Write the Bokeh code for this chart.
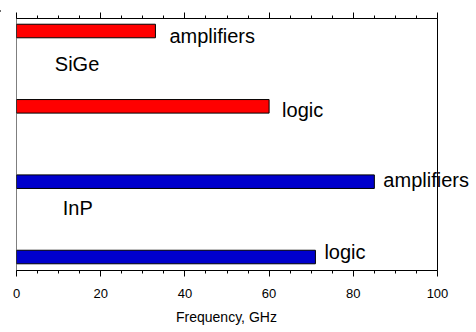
from bokeh.plotting import figure
from bokeh.layouts import column
from bokeh.models import (ColumnDataSource, LinearAxis, FixedTicker, Range1d,
                          LabelSet, Span, Title, Div)
from bokeh.core.properties import value
from bokeh.embed import file_html
from bokeh.resources import INLINE

# ---- data ----
bar_labels = ["amplifiers", "logic", "amplifiers", "logic"]
bar_groups = ["SiGe", "SiGe", "InP", "InP"]
frequency_ghz = [33, 60, 85, 71]
group_names = ["SiGe", "InP"]
x_min, x_max = 0, 100
x_major_ticks = [0, 20, 40, 60, 80, 100]
x_minor_ticks = list(range(0, 101, 5))
x_axis_title = "Frequency, GHz"

group_colors = {"SiGe": "#ff0000", "InP": "#0000cc"}
FONT = "Liberation Sans"

n = len(bar_labels)
ys = [n - i for i in range(n)]  # top bar first

src = ColumnDataSource(dict(
    y=ys, value=frequency_ghz, label=bar_labels,
    color=[group_colors[g] for g in bar_groups],
    xo=[14, 13, 9, 9], yo=[-5, -4, 1.5, 5],
))

# axis box spans 16..437 px; the drawing area runs on to the right edge so
# the labels past the box (e.g. "amplifiers") are not clipped
W, H = 476, 330
box_left, box_right = 16, 437
x_end = x_max + (x_max - x_min) * (W - box_right) / (box_right - box_left)

p = figure(width=W, height=H, output_backend="svg", toolbar_location=None,
           x_range=Range1d(x_min, x_end), y_range=Range1d(0.821, 4.166),
           min_border_left=box_left, min_border_right=0, min_border_top=16,
           min_border_bottom=62)
p.margin = 0
p.background_fill_color = "white"
p.border_fill_color = "white"
p.outline_line_color = None
p.xgrid.visible = False
p.ygrid.visible = False
p.yaxis.visible = False

def style_axis(a):
    a.ticker = FixedTicker(ticks=x_major_ticks, minor_ticks=x_minor_ticks)
    a.bounds = (x_min, x_max)
    a.major_tick_in = 0
    a.major_tick_out = 6
    a.minor_tick_in = 0
    a.minor_tick_out = 3
    a.axis_line_color = "black"
    a.major_tick_line_color = "black"
    a.minor_tick_line_color = "black"

ax = p.xaxis[0]
style_axis(ax)
ax.axis_label = None
ax.major_label_text_font = FONT
ax.major_label_text_font_size = "13px"
ax.major_label_text_color = "black"
ax.major_label_standoff = 12

top = LinearAxis()
style_axis(top)
top.major_label_overrides = {v: "" for v in x_major_ticks}
top.major_label_text_font_size = "1px"
top.major_label_standoff = 0
p.add_layout(top, "above")

# axis title, centred under the 0..100 box (about 102 px wide at 14px)
title_w = 102
p.add_layout(Title(text=x_axis_title, align="left",
                   offset=(box_right - box_left) / 2 - title_w / 2,
                   text_font=FONT, text_font_size="14px", text_font_style="normal",
                   text_color="black", standoff=12), "below")

# left and right sides of the axis box
p.add_layout(Span(location=x_min, dimension="height", line_color="black", line_width=1))
p.add_layout(Span(location=x_max, dimension="height", line_color="black", line_width=1))

p.hbar(y="y", left=0, right="value", height=0.18, fill_color="color",
       line_color="black", line_width=1, source=src)

p.add_layout(LabelSet(x="value", y="y", text="label", x_offset="xo", y_offset="yo",
                      source=src, text_font=value(FONT), text_font_size="20px",
                      text_baseline="middle", text_align="left", text_color="black"))

# group names placed between the two bars of each group
gx, gy, gyo = [], [], []
for g, xv, yo in zip(group_names, [9.1, 11.0], [-5, -11]):
    members = [y for y, b in zip(ys, bar_groups) if b == g]
    gx.append(xv)
    gy.append(sum(members) / len(members))
    gyo.append(yo)
p.text(x=gx, y=gy, text=group_names, y_offset=gyo,
       text_font=value(FONT), text_font_size="20px", text_baseline="middle",
       text_align="left", text_color="black")

top_rule = Div(text='<div style="width:476px;height:2px;background:#3c3c3c;margin:0;"></div>',
               width=W, height=2, margin=0)
layout = column(top_rule, p, spacing=0)

open("out.html", "w").write(file_html(layout, INLINE))
